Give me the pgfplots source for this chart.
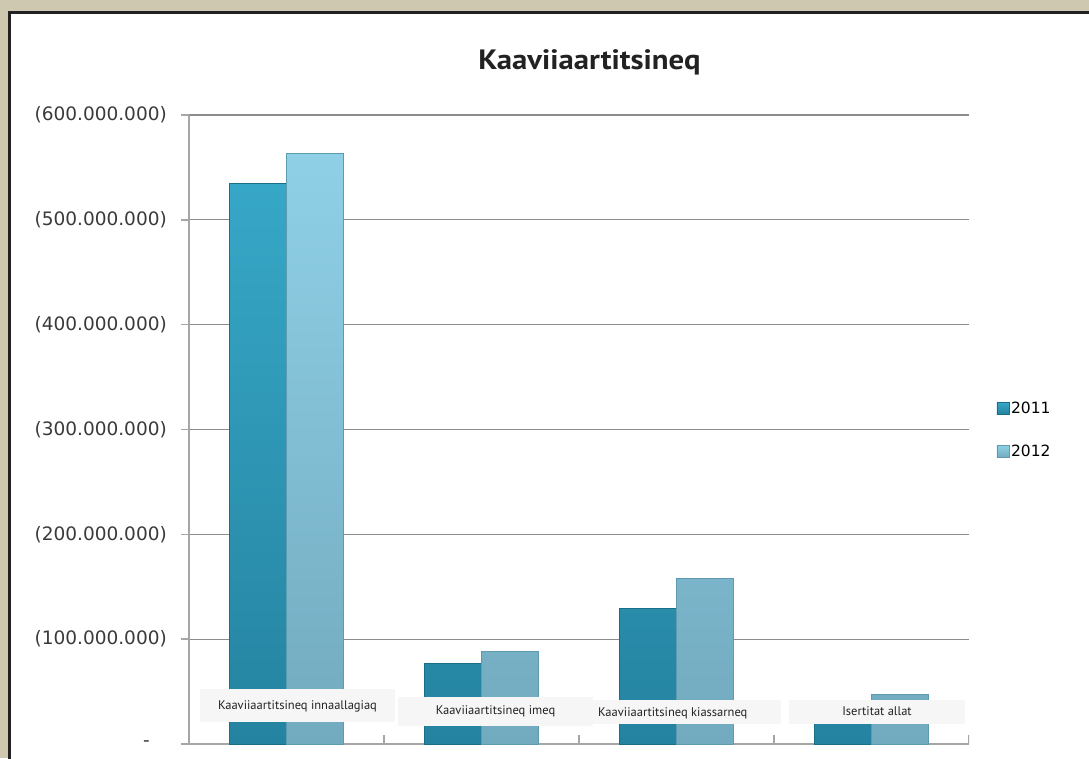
\documentclass[border=0pt]{standalone}
\usepackage{pgfplots}
\pgfplotsset{compat=1.18}
\usepackage{fontspec}
\setmainfont{DejaVu Sans}
\newfontfamily\myriad{PT Sans}
\definecolor{bg}{HTML}{CEC8B1}
\definecolor{frame}{HTML}{222222}
\definecolor{axisgray}{HTML}{A6A6A6}
\definecolor{gridgray}{HTML}{8C8C8C}
\definecolor{ca}{HTML}{37A7C7}
\definecolor{cab}{HTML}{2483A0}
\definecolor{cad}{HTML}{1A6F88}
\definecolor{cb}{HTML}{8FD0E6}
\definecolor{cbb}{HTML}{72AABF}
\definecolor{cbd}{HTML}{5E9BB0}
\definecolor{lblbg}{HTML}{F6F6F6}
\definecolor{ylab}{HTML}{3A3A3A}
\begin{document}
\begin{tikzpicture}[x=1pt,y=1pt]
\useasboundingbox (0,0) rectangle (1089,758);
\fill[bg] (0,0) rectangle (1089,758);
\fill[white] (9.5,-5) rectangle (1095,745.5);
\draw[frame, line width=3pt] (9.5,-5) -- (9.5,745.5) -- (1095,745.5);
\begin{axis}[
  at={(189pt,14pt)}, anchor=south west,
  scale only axis, width=780pt, height=629pt,
  xmin=-0.5, xmax=3.5, ymin=0, ymax=600000000,
  axis lines=left,
  axis line style={-, color=axisgray, line width=2pt},
  xtick=\empty,
  scaled y ticks=false,
  ytick={0,100000000,200000000,300000000,400000000,500000000,600000000},
  yticklabels={{-\rule{17pt}{0pt}},(100.000.000),(200.000.000),(300.000.000),(400.000.000),(500.000.000),(600.000.000)},
  yticklabel style={font=\fontsize{18.5}{20}\selectfont, text=ylab, anchor=east, inner sep=0pt, xshift=-14pt},
  tick align=outside, major tick length=8pt,
  y tick style={color=axisgray, line width=1.5pt},
  ymajorgrids,
  major grid style={color=gridgray, line width=1.2pt},
  ybar=0pt, bar width=57pt,
  legend style={at={(1.035,0.4992)}, anchor=west, draw=none, fill=none,
    font=\fontsize{15.5}{17}\selectfont, inner sep=0pt, row sep=26pt,
    /tikz/every even column/.append style={column sep=4pt}},
  legend cell align=left,
  legend image code/.code={\draw[#1, line width=0.6pt] (0pt,-6pt) rectangle (12pt,6pt);},
]
\addplot[top color=ca, bottom color=cab, draw=cad, line width=0.6pt]
  coordinates {(0,535000000) (1,77000000) (2,129000000) (3,35000000)};
\addplot[top color=cb, bottom color=cbb, draw=cbd, line width=0.6pt]
  coordinates {(0,563000000) (1,88000000) (2,158000000) (3,47000000)};
\legend{2011,2012}
\draw[axisgray, line width=1.5pt] (axis cs:0.5,0) -- ++(0pt,9pt);
\draw[axisgray, line width=1.5pt] (axis cs:1.5,0) -- ++(0pt,9pt);
\draw[axisgray, line width=1.5pt] (axis cs:2.5,0) -- ++(0pt,9pt);
\draw[axisgray, line width=1.5pt] (axis cs:3.5,0) -- ++(0pt,9pt);
\end{axis}
\node[anchor=base, font=\myriad\bfseries\fontsize{28}{30}\selectfont, text=frame] at (589.5,688) {\scalebox{1.1}[1]{Kaaviiaartitsineq}};
\fill[lblbg] (200,36) rectangle (395,69);
\fill[lblbg] (398,32) rectangle (593,61);
\fill[lblbg] (593,34) rectangle (781,58);
\fill[lblbg] (789,34) rectangle (965,58);
\begin{scope}[every node/.style={font=\myriad\fontsize{12.5}{15}\selectfont, text=frame, inner sep=0pt}]
\node[anchor=base] at (297.5,49) {Kaaviiaartitsineq innaallagiaq};
\node[anchor=base] at (495.5,44) {Kaaviiaartitsineq imeq};
\node[anchor=base west] at (598,42) {Kaaviiaartitsineq kiassarneq};
\node[anchor=base] at (877,43) {Isertitat allat};
\end{scope}
\end{tikzpicture}
\end{document}
